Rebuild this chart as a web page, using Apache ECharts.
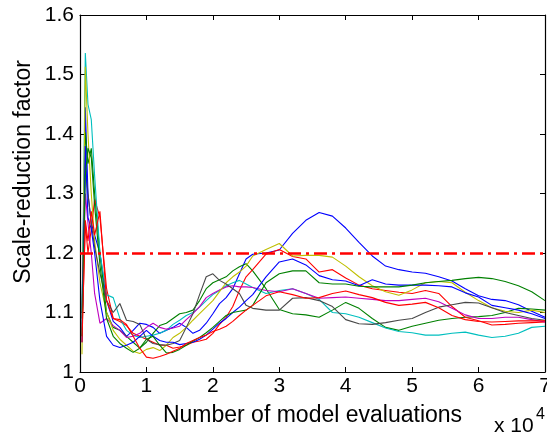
<!DOCTYPE html>
<html>
<head>
<meta charset="utf-8">
<script src="https://cdn.jsdelivr.net/npm/echarts@6.0.0/dist/echarts.min.js"></script>
<style>
  html, body { margin: 0; padding: 0; background: #fff; }
  #myChart { width: 547px; height: 434px; }
</style>
</head>
<body>
<div id="myChart"></div>
<script>
// number of model evaluations (x 10^4)
const evals = [0.03, 0.08, 0.12, 0.17, 0.22, 0.3, 0.4, 0.5, 0.6, 0.7,
  0.8, 0.9, 1.0, 1.1, 1.2, 1.3, 1.4, 1.5, 1.6, 1.7,
  1.8, 1.9, 2.0, 2.1, 2.2, 2.3, 2.4, 2.5, 2.6, 2.8,
  3.0, 3.2, 3.4, 3.6, 3.8, 4.0, 4.2, 4.4, 4.6, 4.8,
  5.0, 5.2, 5.4, 5.6, 5.8, 6.0, 6.2, 6.4, 6.6, 6.8, 7.0]

// scale-reduction factor per parameter
const blueA = [1.10, 1.445, 1.30, 1.25, 1.23, 1.20, 1.12, 1.085, 1.075, 1.06,
  1.07, 1.082, 1.08, 1.075, 1.065, 1.07, 1.075, 1.082, 1.075, 1.065,
  1.07, 1.082, 1.098, 1.115, 1.125, 1.14, 1.165, 1.19, 1.198, 1.20,
  1.205, 1.233, 1.255, 1.268, 1.262, 1.242, 1.218, 1.195, 1.178, 1.172,
  1.168, 1.166, 1.16, 1.153, 1.14, 1.128, 1.122, 1.12, 1.113, 1.102, 1.092]
const blueB = [1.05, 1.38, 1.26, 1.24, 1.20, 1.12, 1.06, 1.045, 1.041, 1.045,
  1.05, 1.06, 1.07, 1.06, 1.053, 1.05, 1.05, 1.046, 1.048, 1.05,
  1.055, 1.062, 1.072, 1.082, 1.09, 1.10, 1.109, 1.12, 1.13, 1.16,
  1.185, 1.19, 1.18, 1.162, 1.155, 1.153, 1.145, 1.155, 1.148, 1.146,
  1.146, 1.146, 1.145, 1.143, 1.133, 1.126, 1.112, 1.108, 1.104, 1.098, 1.09]
const greenA = [1.10, 1.403, 1.35, 1.376, 1.30, 1.20, 1.10, 1.075, 1.07, 1.06,
  1.05, 1.04, 1.05, 1.065, 1.078, 1.082, 1.09, 1.098, 1.10, 1.104,
  1.12, 1.14, 1.15, 1.155, 1.16, 1.17, 1.177, 1.182, 1.17, 1.14,
  1.105, 1.098, 1.096, 1.092, 1.104, 1.117, 1.107, 1.09, 1.075, 1.07,
  1.077, 1.082, 1.087, 1.09, 1.092, 1.093, 1.095, 1.10, 1.107, 1.106, 1.104]
const greenB = [1.06, 1.33, 1.376, 1.36, 1.28, 1.18, 1.09, 1.06, 1.048, 1.04,
  1.033, 1.04, 1.055, 1.06, 1.045, 1.032, 1.033, 1.038, 1.045, 1.052,
  1.058, 1.066, 1.075, 1.085, 1.095, 1.10, 1.102, 1.104, 1.112, 1.15,
  1.165, 1.17, 1.17, 1.15, 1.148, 1.148, 1.144, 1.143, 1.143, 1.143,
  1.146, 1.15, 1.152, 1.154, 1.157, 1.159, 1.157, 1.152, 1.145, 1.135, 1.12]
const redA = [1.06, 1.25, 1.20, 1.24, 1.29, 1.26, 1.14, 1.09, 1.085, 1.078,
  1.065, 1.06, 1.055, 1.05, 1.045, 1.045, 1.04, 1.042, 1.045, 1.05,
  1.052, 1.055, 1.065, 1.08, 1.092, 1.11, 1.137, 1.16, 1.172, 1.198,
  1.206, 1.194, 1.19, 1.168, 1.172, 1.158, 1.146, 1.14, 1.137, 1.134,
  1.132, 1.137, 1.132, 1.11, 1.092, 1.086, 1.079, 1.08, 1.082, 1.083, 1.084]
const redB = [1.05, 1.255, 1.22, 1.27, 1.23, 1.27, 1.12, 1.09, 1.088, 1.08,
  1.06, 1.04, 1.025, 1.023, 1.026, 1.03, 1.035, 1.04, 1.048, 1.053,
  1.058, 1.062, 1.068, 1.072, 1.077, 1.085, 1.095, 1.104, 1.112, 1.128,
  1.135, 1.13, 1.124, 1.125, 1.132, 1.136, 1.13, 1.125, 1.117, 1.112,
  1.114, 1.117, 1.108, 1.095, 1.088, 1.085, 1.084, 1.085, 1.086, 1.086, 1.086]
const cyan = [1.08, 1.536, 1.45, 1.424, 1.33, 1.20, 1.13, 1.125, 1.09, 1.07,
  1.062, 1.058, 1.06, 1.062, 1.065, 1.07, 1.08, 1.087, 1.095, 1.10,
  1.109, 1.12, 1.13, 1.137, 1.145, 1.15, 1.154, 1.148, 1.142, 1.132,
  1.137, 1.14, 1.132, 1.122, 1.10, 1.098, 1.092, 1.083, 1.074, 1.068,
  1.066, 1.062, 1.062, 1.065, 1.067, 1.062, 1.058, 1.06, 1.065, 1.075, 1.077]
const magenta = [1.07, 1.30, 1.25, 1.20, 1.132, 1.082, 1.09, 1.078, 1.07, 1.058,
  1.06, 1.065, 1.075, 1.082, 1.075, 1.072, 1.074, 1.077, 1.088, 1.098,
  1.11, 1.125, 1.132, 1.138, 1.143, 1.145, 1.143, 1.143, 1.142, 1.137,
  1.135, 1.14, 1.132, 1.124, 1.125, 1.126, 1.124, 1.122, 1.12, 1.12,
  1.122, 1.124, 1.118, 1.107, 1.096, 1.09, 1.09, 1.092, 1.092, 1.088, 1.084]
const yellow = [1.03, 1.513, 1.40, 1.30, 1.22, 1.15, 1.10, 1.07, 1.055, 1.045,
  1.035, 1.031, 1.038, 1.041, 1.036, 1.045, 1.058, 1.065, 1.075, 1.087,
  1.098, 1.109, 1.12, 1.135, 1.15, 1.16, 1.168, 1.178, 1.195, 1.206,
  1.216, 1.195, 1.196, 1.196, 1.193, 1.178, 1.16, 1.145, 1.135, 1.129,
  1.138, 1.15, 1.152, 1.15, 1.134, 1.12, 1.108, 1.102, 1.10, 1.104, 1.10]
const gray = [1.09, 1.35, 1.30, 1.25, 1.21, 1.166, 1.12, 1.10, 1.115, 1.087,
  1.085, 1.08, 1.055, 1.048, 1.046, 1.045, 1.048, 1.053, 1.075, 1.098,
  1.13, 1.16, 1.165, 1.154, 1.148, 1.14, 1.132, 1.112, 1.107, 1.104,
  1.104, 1.124, 1.125, 1.12, 1.11, 1.088, 1.081, 1.08, 1.083, 1.087,
  1.09, 1.10, 1.109, 1.113, 1.117, 1.116, 1.108, 1.10, 1.095, 1.09, 1.087]

const threshold = 1.2
const yTicks = [1, 1.1, 1.2, 1.3, 1.4, 1.5, 1.6]
const xTicks = [0, 1, 2, 3, 4, 5, 6, 7]

const seriesList = [
  { name: 'p1', data: blueA, color: '#0000ff' },
  { name: 'p2', data: greenA, color: '#008000' },
  { name: 'p3', data: redA, color: '#ff0000' },
  { name: 'p4', data: cyan, color: '#00bfbf' },
  { name: 'p5', data: magenta, color: '#bf00bf' },
  { name: 'p6', data: yellow, color: '#bfbf00' },
  { name: 'p7', data: gray, color: '#484848' },
  { name: 'p8', data: blueB, color: '#0000ff' },
  { name: 'p9', data: greenB, color: '#008000' },
  { name: 'p10', data: redB, color: '#ff0000' }
]

const font = 'Liberation Sans, Arial, sans-serif'

function boxAxis (pos, min, max, interval, showLabel, name) {
  return {
    type: 'value',
    position: pos,
    min: min,
    max: max,
    interval: interval,
    name: name || '',
    nameLocation: 'middle',
    axisLine: { show: true, onZero: false, lineStyle: { color: '#000', width: 1.2 } },
    axisTick: { show: true, inside: true, length: 5, lineStyle: { color: '#000', width: 1 } },
    axisLabel: { show: showLabel, color: '#000', fontSize: 21, fontFamily: font },
    splitLine: { show: false }
  }
}

const xMain = boxAxis('bottom', xTicks[0], xTicks[xTicks.length - 1], 1, true, 'Number of model evaluations')
xMain.nameGap = 32
xMain.axisLabel.margin = 4
xMain.nameTextStyle = { color: '#000', fontSize: 23, fontFamily: font }
const xTop = boxAxis('top', xTicks[0], xTicks[xTicks.length - 1], 1, false)

const yMain = boxAxis('left', yTicks[0], yTicks[yTicks.length - 1], 0.1, true)
yMain.axisLabel.margin = 6
const yRight = boxAxis('right', yTicks[0], yTicks[yTicks.length - 1], 0.1, false)

const series = seriesList.map(function (s) {
  return {
    name: s.name,
    type: 'line',
    data: evals.map(function (x, i) { return [x, s.data[i]] }),
    showSymbol: false,
    smooth: false,
    lineStyle: { color: s.color, width: 1.1 },
    itemStyle: { color: s.color },
    silent: true
  }
})
// R = 1.2 convergence threshold
series.push({
  name: 'threshold',
  type: 'line',
  data: [],
  z: 5,
  markLine: {
    silent: true,
    symbol: ['none', 'none'],
    label: { show: false },
    lineStyle: { color: '#ff0000', width: 2.5, type: [13, 5, 3, 5] },
    data: [{ yAxis: threshold }]
  }
})

const myChart = echarts.init(document.getElementById('myChart'), null, { renderer: 'canvas' })
myChart.setOption({
  animation: false,
  backgroundColor: '#fff',
  grid: { left: 80, right: 2, top: 15, bottom: 62, containLabel: false, outerBoundsMode: 'none' },
  xAxis: [xMain, xTop],
  yAxis: [yMain, yRight],
  graphic: [
    {
      type: 'text', x: 24, y: 172, rotation: Math.PI / 2,
      style: { text: 'Scale-reduction factor', fill: '#000', font: '23px ' + font, align: 'center', verticalAlign: 'middle' }
    },
    { type: 'text', left: 494, top: 416, style: { text: 'x 10', fill: '#000', font: '21px ' + font } },
    { type: 'text', left: 536, top: 407, style: { text: '4', fill: '#000', font: '16px ' + font } }
  ],
  series: series
})
</script>
</body>
</html>
